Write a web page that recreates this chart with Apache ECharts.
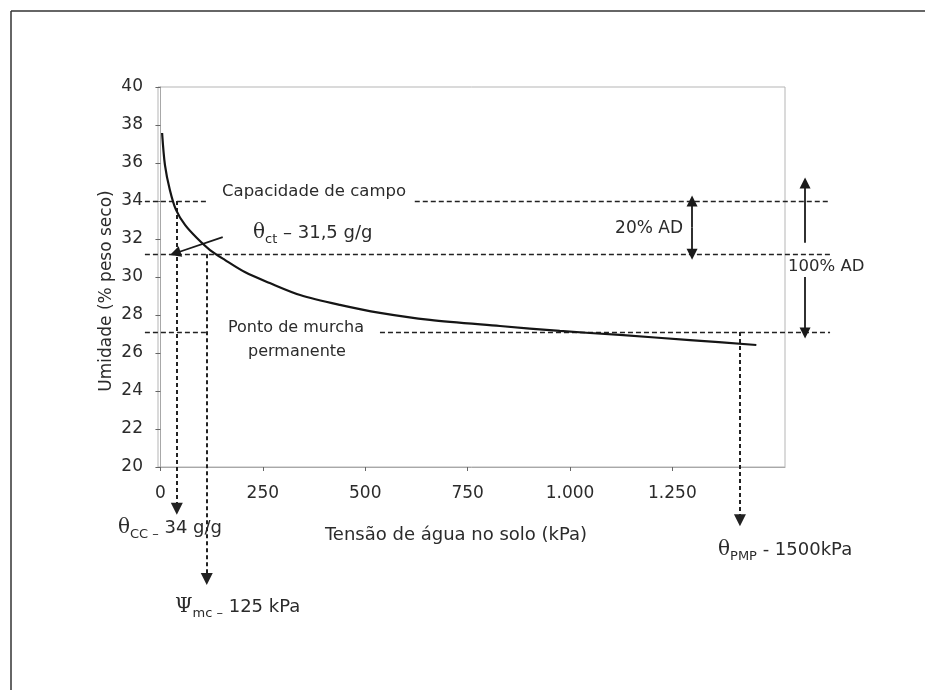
<!DOCTYPE html>
<html>
<head>
<meta charset="utf-8">
<script src="https://cdn.jsdelivr.net/npm/echarts@6/dist/echarts.min.js"></script>
<style>
  html, body { margin: 0; padding: 0; background: #fff; }
  #chart { width: 925px; height: 690px; }
</style>
</head>
<body>
<div id="chart"></div>
<script>
// retention curve
const tension = [4, 11, 23, 38, 60, 89, 121, 158, 206, 267, 341, 438, 536, 658, 829, 975, 1122, 1293, 1455];
const moisture = [37.58, 35.89, 34.58, 33.53, 32.74, 32.05, 31.42, 30.89, 30.26, 29.68, 29.05, 28.53, 28.11, 27.74, 27.42, 27.16, 26.95, 26.68, 26.42];

const xTicks = [0, 250, 500, 750, 1000, 1250];
const xTickLabels = ["0", "250", "500", "750", "1.000", "1.250"];

// reference levels (umidade) and tensions
const levelCC = 34;
const levelCT = 31.2;
const levelPMP = 27.1;
const tensionCC = 40;
const tensionMC = 113;
const tensionPMP = 1415;

// dashed guide lines [[x1, y1], [x2, y2]]
const guides = [
  [[-38, levelCC], [113, levelCC]],
  [[621, levelCC], [1635, levelCC]],
  [[-38, levelCT], [1635, levelCT]],
  [[-38, levelPMP], [116, levelPMP]],
  [[536, levelPMP], [1635, levelPMP]],
];
// dashed drops with arrow at the bottom
const drops = [
  [[tensionCC, levelCC], [tensionCC, 17.8]],
  [[tensionMC, levelCT], [tensionMC, 14.1]],
  [[tensionPMP, levelPMP], [tensionPMP, 17.2]],
];
// solid arrows
const arrows = [
  [[152, 32.1], [36, 31.25]],
  [[1298, 32.6], [1298, levelCC]],
  [[1298, 32.6], [1298, levelCT]],
  [[1574, 31.8], [1574, 34.95]],
  [[1574, 30.0], [1574, 27.05]],
];

const chart = echarts.init(document.getElementById("chart"));
const font = "DejaVu Sans, Verdana, sans-serif";
const serif = "DejaVu Serif, Liberation Serif, serif";
const ink = "#2b2b2b";

function greek(letter, sub, rest, align) {
  return {
    text: "{g|" + letter + "}{s|" + sub + "}{t|" + rest + "}",
    fill: ink,
    align: align || "left",
    verticalAlign: "middle",
    rich: {
      g: { fontFamily: serif, fontSize: 20, lineHeight: 26, verticalAlign: "middle", fill: ink },
      s: { fontFamily: font, fontSize: 13, lineHeight: 14, verticalAlign: "bottom", fill: ink },
      t: { fontFamily: font, fontSize: 18, lineHeight: 26, verticalAlign: "middle", fill: ink },
    },
  };
}

const option = {
  animation: false,
  backgroundColor: "#fff",
  textStyle: { fontFamily: font },
  grid: {
    left: 158,
    right: 140,
    top: 87,
    bottom: 223,
    show: true,
    borderColor: "#b5b5b5",
    borderWidth: 1,
  },
  xAxis: {
    type: "value",
    min: -6,
    max: 1525,
    axisLine: { lineStyle: { color: "#a8a8a8", width: 1 } },
    axisTick: {
      customValues: xTicks,
      length: 4,
      lineStyle: { color: "#666" },
    },
    axisLabel: {
      customValues: xTicks,
      margin: 18,
      fontSize: 17,
      color: ink,
      formatter: (v) => xTickLabels[xTicks.indexOf(v)],
    },
    splitLine: { show: false },
  },
  yAxis: {
    type: "value",
    min: 20,
    max: 40,
    interval: 2,
    axisLine: { show: true, lineStyle: { color: "#a8a8a8", width: 1 } },
    axisTick: { show: true, length: 5, lineStyle: { color: "#666" } },
    axisLabel: { margin: 15, fontSize: 17, color: ink },
    splitLine: { show: false },
  },
  series: [
    {
      type: "line",
      data: tension.map((t, i) => [t, moisture[i]]),
      smooth: 0.3,
      showSymbol: false,
      lineStyle: { color: "#151515", width: 2.2 },
      z: 5,
    },
    {
      type: "lines",
      coordinateSystem: "cartesian2d",
      clip: false,
      data: guides.map((c) => ({ coords: c })),
      symbol: "none",
      lineStyle: { color: "#222", width: 1.4, type: [5, 3], opacity: 1 },
      z: 3,
    },
    {
      type: "lines",
      coordinateSystem: "cartesian2d",
      clip: false,
      data: drops.map((c) => ({ coords: c })),
      symbol: ["none", "triangle"],
      symbolSize: [11, 12],
      lineStyle: { color: "#222", width: 2, type: [4, 3], opacity: 1 },
      z: 3,
    },
    {
      type: "lines",
      coordinateSystem: "cartesian2d",
      clip: false,
      data: arrows.map((c) => ({ coords: c })),
      symbol: ["none", "triangle"],
      symbolSize: [10, 11],
      lineStyle: { color: "#1a1a1a", width: 1.8, opacity: 1 },
      z: 4,
    },
  ],
  graphic: [
    { type: "line", shape: { x1: 11, y1: 11, x2: 925, y2: 11 }, style: { stroke: "#333", lineWidth: 1.5 } },
    { type: "line", shape: { x1: 11, y1: 11, x2: 11, y2: 690 }, style: { stroke: "#333", lineWidth: 1.5 } },
    {
      type: "text", x: 107, y: 291, rotation: Math.PI / 2,
      style: { text: "Umidade (% peso seco)", font: "17px " + font, fill: ink, align: "center", verticalAlign: "middle" },
    },
    {
      type: "text", x: 456, y: 535,
      style: { text: "Tensão de água no solo (kPa)", font: "18px " + font, fill: ink, align: "center", verticalAlign: "middle" },
    },
    {
      type: "text", x: 222, y: 192,
      style: { text: "Capacidade de campo", font: "16.5px " + font, fill: ink, verticalAlign: "middle" },
    },
    { type: "text", x: 253, y: 233, style: greek("θ", "ct", " – 31,5 g/g") },
    {
      type: "text", x: 228, y: 328,
      style: { text: "Ponto de murcha", font: "16px " + font, fill: ink, verticalAlign: "middle" },
    },
    {
      type: "text", x: 248, y: 352,
      style: { text: "permanente", font: "16px " + font, fill: ink, verticalAlign: "middle" },
    },
    {
      type: "text", x: 683, y: 229,
      style: { text: "20% AD", font: "17px " + font, fill: ink, align: "right", verticalAlign: "middle" },
    },
    {
      type: "text", x: 788, y: 267,
      style: { text: "100% AD", font: "16.5px " + font, fill: ink, verticalAlign: "middle" },
    },
    { type: "text", x: 222, y: 528, style: greek("θ", "CC –", " 34 g/g", "right") },
    { type: "text", x: 175, y: 607, style: greek("Ψ", "mc –", " 125 kPa") },
    { type: "text", x: 718, y: 550, style: greek("θ", "PMP", " - 1500kPa") },
  ],
};

chart.setOption(option);
</script>
</body>
</html>
